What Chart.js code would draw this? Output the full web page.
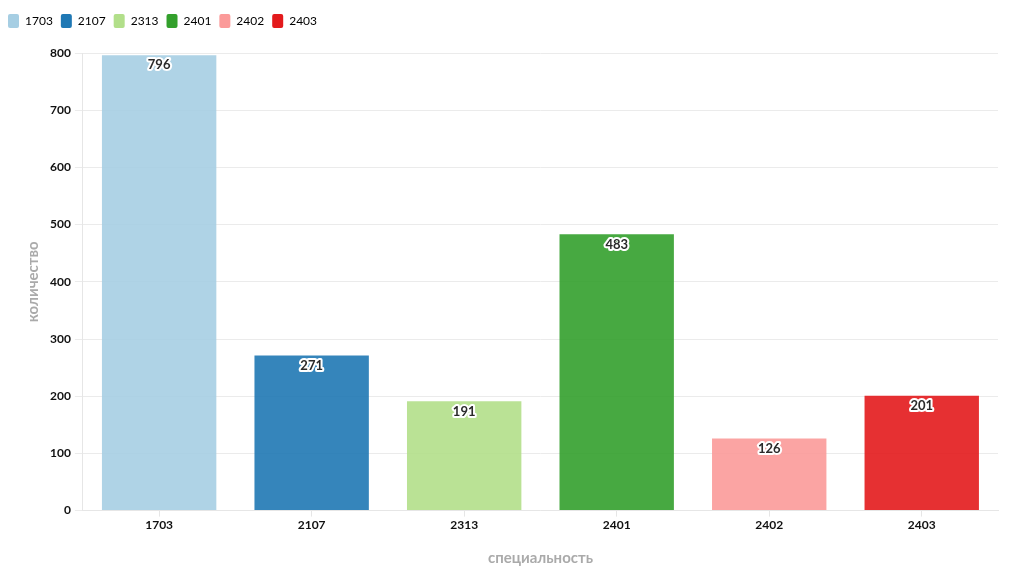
<!DOCTYPE html>
<html>
<head>
<meta charset="utf-8">
<script src="https://cdn.jsdelivr.net/npm/chart.js@4"></script>
<style>
  html, body { margin: 0; padding: 0; background: #fff; }
  #wrap { width: 1024px; height: 588px; }
</style>
</head>
<body>
<div id="wrap"><canvas id="myChart"></canvas></div>
<script>
// categories (specialities) and counts
const categories = ["1703", "2107", "2313", "2401", "2402", "2403"];
const counts = [796, 271, 191, 483, 126, 201];
const colors = ["#a6cee3", "#1f78b4", "#b2df8a", "#33a02c", "#fb9a99", "#e31a1c"];
const yTicks = [0, 100, 200, 300, 400, 500, 600, 700, 800];

function alpha(hex, a) {
  var r = parseInt(hex.slice(1, 3), 16);
  var g = parseInt(hex.slice(3, 5), 16);
  var b = parseInt(hex.slice(5, 7), 16);
  return "rgba(" + r + "," + g + "," + b + "," + a + ")";
}

// one dataset per speciality so the legend lists each one
var datasets = [];
for (var i = 0; i < categories.length; ++i) {
  var data = categories.map(function () { return null; });
  data[i] = counts[i];
  datasets.push({
    label: categories[i],
    data: data,
    backgroundColor: alpha(colors[i], 0.9),
    borderWidth: 0,
    grouped: false,
    barPercentage: 0.75,
    categoryPercentage: 1.0,
  });
}

// value labels just under the top of each bar
const valueLabels = {
  id: "valueLabels",
  afterDatasetsDraw(chart) {
    var ctx = chart.ctx;
    ctx.save();
    ctx.font = "bold 13px Lato, 'DejaVu Sans', sans-serif";
    ctx.textAlign = "center";
    ctx.textBaseline = "middle";
    ctx.lineJoin = "round";
    chart.data.datasets.forEach(function (ds, di) {
      var meta = chart.getDatasetMeta(di);
      if (meta.hidden) return;
      meta.data.forEach(function (bar, j) {
        var v = ds.data[j];
        if (v === null) return;
        var y = bar.y + 10;
        ctx.strokeStyle = "#fff";
        ctx.lineWidth = 4;
        ctx.strokeText(String(v), bar.x, y);
        ctx.fillStyle = "#2a2a2a";
        ctx.fillText(String(v), bar.x, y);
      });
    });
    ctx.restore();
  },
};

// extra room under the legend
const legendMargin = {
  id: "legendMargin",
  beforeInit(chart) {
    var fit = chart.legend.fit;
    chart.legend.fit = function () {
      fit.bind(chart.legend)();
      this.height += 15;
    };
  },
};

var ctx = document.getElementById("myChart").getContext("2d");
new Chart(ctx, {
  type: "bar",
  data: { labels: categories, datasets: datasets },
  options: {
    responsive: true,
    maintainAspectRatio: false,
    animation: false,
    layout: { padding: { left: 0, right: 26, top: 6, bottom: 17 } },
    plugins: {
      legend: {
        position: "top",
        align: "start",
        labels: {
          boxWidth: 11,
          boxHeight: 14,
          padding: 8,
          color: "#333",
          font: { family: "Lato, 'DejaVu Sans', sans-serif", size: 12 },
          generateLabels: function (chart) {
            return chart.data.datasets.map(function (ds, i) {
              return {
                text: ds.label,
                fillStyle: colors[i],
                strokeStyle: colors[i],
                lineWidth: 0,
                hidden: !chart.isDatasetVisible(i),
                datasetIndex: i,
                borderRadius: 2,
              };
            });
          },
        },
      },
      tooltip: { enabled: false },
    },
    scales: {
      x: {
        grid: { display: true, offset: false, drawOnChartArea: false, color: "#e6e6e6", tickLength: 6 },
        border: { color: "#e6e6e6" },
        ticks: {
          color: "#111",
          padding: 1,
          font: { family: "Lato, 'DejaVu Sans', sans-serif", size: 12, weight: "bold" },
        },
        title: {
          display: true,
          text: "специальность",
          color: "#aaa",
          padding: { top: 16 },
          font: { family: "Lato, 'DejaVu Sans', sans-serif", size: 15, weight: "bold" },
        },
      },
      y: {
        min: 0,
        max: 800,
        afterBuildTicks: function (axis) {
          axis.ticks = yTicks.map(function (v) { return { value: v }; });
        },
        grid: { color: "#ebebeb", tickLength: 8 },
        border: { color: "#e6e6e6" },
        ticks: {
          color: "#111",
          padding: 4,
          font: { family: "Lato, 'DejaVu Sans', sans-serif", size: 12, weight: "bold" },
        },
        title: {
          display: true,
          text: "количество",
          color: "#aaa",
          padding: { top: 24, bottom: 4 },
          font: { family: "Lato, 'DejaVu Sans', sans-serif", size: 15, weight: "bold" },
        },
      },
    },
  },
  plugins: [valueLabels, legendMargin],
});
</script>
</body>
</html>
